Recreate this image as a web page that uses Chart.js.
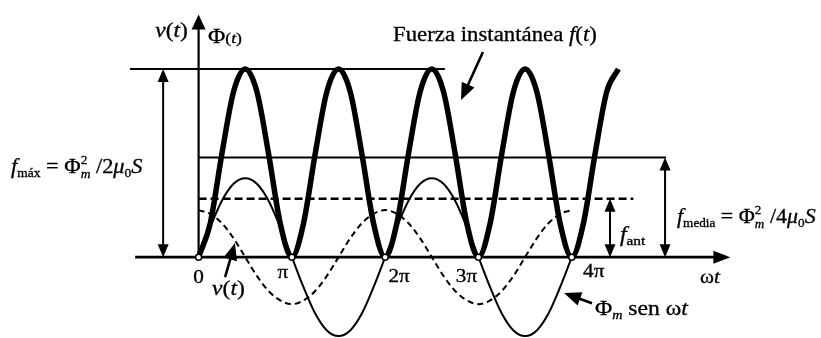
<!DOCTYPE html>
<html>
<head>
<meta charset="utf-8">
<script src="https://cdn.jsdelivr.net/npm/chart.js@4.4.1/dist/chart.umd.min.js"></script>
<style>
  html, body { margin: 0; padding: 0; background: #fff; }
  #wrap { width: 821px; height: 338px; }
</style>
</head>
<body>
<div id="wrap"><canvas id="forceChart" width="821" height="338"></canvas></div>
<script>
/* ==============================
   DATA  (x in multiples of pi, y in units of f_max)
================================ */
const omega = [
    0, 0.125, 0.25, 0.375, 0.5, 0.625, 0.75, 0.875,
    1, 1.125, 1.25, 1.375, 1.5, 1.625, 1.75, 1.875,
    2, 2.125, 2.25, 2.375, 2.5, 2.625, 2.75, 2.875,
    3, 3.125, 3.25, 3.375, 3.5, 3.625, 3.75, 3.875,
    4, 4.125, 4.25, 4.375, 4.5
];

// instantaneous force f(t)
const force = [
    0, 0.18, 0.55, 0.88, 1, 0.88, 0.55, 0.18,
    0, 0.18, 0.55, 0.88, 1, 0.88, 0.55, 0.18,
    0, 0.18, 0.55, 0.88, 1, 0.88, 0.55, 0.18,
    0, 0.18, 0.55, 0.88, 1, 0.88, 0.55, 0.18,
    0, 0.18, 0.55, 0.88, 1
];

// flux  Phi_m sen wt
const flux = [
    0, 0.16, 0.30, 0.39, 0.42, 0.39, 0.30, 0.16,
    0, -0.16, -0.30, -0.39, -0.42, -0.39, -0.30, -0.16,
    0, 0.16, 0.30, 0.39, 0.42, 0.39, 0.30, 0.16,
    0, -0.16, -0.30, -0.39, -0.42, -0.39, -0.30, -0.16,
    0
];

// voltage v(t)
const voltage = [
    0.25, 0.23, 0.18, 0.10, 0, -0.10, -0.18, -0.23,
    -0.25, -0.23, -0.18, -0.10, 0, 0.10, 0.18, 0.23,
    0.25, 0.23, 0.18, 0.10, 0, -0.10, -0.18, -0.23,
    -0.25, -0.23, -0.18, -0.10, 0, 0.10, 0.18, 0.23,
    0.25
];

const tickValues = [0, 1, 2, 3, 4];
const tickLabels = ["0", "π", "2π", "3π", "4π"];

// f_max, f_media, f_ant
const levels = [1, 0.53, 0.31];

/* ==============================
   LAYOUT
================================ */
const SERIF = '"Liberation Serif", "DejaVu Serif", serif';
const HSCALE = 1.18;

const guideSpan = { max: [-0.735, 2.64], media: [0, 5.01], ant: [0, 4.66] };
const axisSpan = { x: [-0.68, 5.70], yTop: 1.29 };
const dimX = { max: -0.38, media: 5.0, ant: 4.41 };

// pixel offsets of tick labels from (tick, 0)
const tickOffsets = [[0, 26], [-9, 21], [14, 25], [-12, 25], [22, 20]];

const notes = [
    { x: -0.114, y: 1.170, align: "right", runs: [
        { t: "v", s: 20, i: 1 }, { t: "(", s: 20 }, { t: "t", s: 20, i: 1 }, { t: ")", s: 20 }] },
    { x: 0.101, y: 1.138, runs: [
        { t: "Φ", s: 20 }, { t: "(", s: 15 }, { t: "t", s: 15, i: 1 }, { t: ")", s: 15 }] },
    { x: 2.084, y: 1.149, hs: 1.14, runs: [
        { t: "Fuerza instantánea ", s: 20 }, { t: "f", s: 20, i: 1 }, { t: "(", s: 20 },
        { t: "t", s: 20, i: 1 }, { t: ")", s: 20 }] },
    { x: -2.01, y: 0.447, hs: 1.12, runs: [
        { t: "f", s: 20, i: 1 }, { t: "máx", s: 12, dy: 4 }, { t: " = Φ", s: 20 },
        { sup: "2", sub: "m", s: 12 }, { t: " /2", s: 20 }, { t: "μ", s: 20, i: 1 },
        { t: "0", s: 12, dy: 4 }, { t: "S", s: 20, i: 1 }] },
    { x: 5.128, y: 0.181, hs: 1.1, runs: [
        { t: "f", s: 20, i: 1 }, { t: "media", s: 12, dy: 4 }, { t: " = Φ", s: 20 },
        { sup: "2", sub: "m", s: 12 }, { t: " /4", s: 20 }, { t: "μ", s: 20, i: 1 },
        { t: "0", s: 12, dy: 4 }, { t: "S", s: 20, i: 1 }] },
    { x: 4.517, y: 0.086, runs: [
        { t: "f", s: 20, i: 1 }, { t: "ant", s: 13, dy: 4 }] },
    { x: 4.249, y: -0.308, runs: [
        { t: "Φ", s: 20 }, { t: "m", s: 12, i: 1, dy: 4 }, { t: " sen ω", s: 20 }, { t: "t", s: 20, i: 1 }] },
    { x: 5.375, y: -0.138, runs: [
        { t: "ω", s: 18 }, { t: "t", s: 18, i: 1 }] },
    { x: 0.145, y: -0.200, runs: [
        { t: "v", s: 20, i: 1 }, { t: "(", s: 20 }, { t: "t", s: 20, i: 1 }, { t: ")", s: 20 }] }
];

// pointer arrows: [tailX, tailY, tipX, tipY]
const pointers = [
    [0.284, -0.106, 0.390, 0.075],
    [3.048, 1.091, 2.813, 0.835],
    [4.217, -0.245, 3.917, -0.191]
];

/* ==============================
   DRAW HELPERS
================================ */
function fontOf(r) {
    return `${r.i ? "italic " : ""}${r.s}px ${SERIF}`;
}

function runWidth(ctx, r) {
    if (r.sup !== undefined) {
        ctx.font = fontOf({ s: r.s });
        const a = ctx.measureText(r.sup).width;
        ctx.font = fontOf({ s: r.s, i: 1 });
        return Math.max(a, ctx.measureText(r.sub).width);
    }
    ctx.font = fontOf(r);
    return ctx.measureText(r.t).width;
}

function put(ctx, txt, x, y) {
    ctx.strokeText(txt, x, y);
    ctx.fillText(txt, x, y);
}

function drawRuns(ctx, x0, y0, runs, align, hs) {
    hs = hs || HSCALE;
    const w = runs.reduce((a, r) => a + runWidth(ctx, r), 0) * hs;
    if (align === "right") x0 -= w;
    if (align === "center") x0 -= w / 2;
    ctx.save();
    ctx.translate(x0, y0);
    ctx.scale(hs, 1);
    ctx.textBaseline = "alphabetic";
    ctx.fillStyle = "#000";
    ctx.strokeStyle = "#000";
    ctx.lineWidth = 0.3;
    let cx = 0;
    runs.forEach(r => {
        const rw = runWidth(ctx, r);
        if (r.sup !== undefined) {
            ctx.font = fontOf({ s: r.s });
            put(ctx, r.sup, cx, -9);
            ctx.font = fontOf({ s: r.s, i: 1 });
            put(ctx, r.sub, cx, 5);
        } else {
            ctx.font = fontOf(r);
            put(ctx, r.t, cx, r.dy || 0);
        }
        cx += rw;
    });
    ctx.restore();
}

function head(ctx, x1, y1, x2, y2, len, wid) {
    const a = Math.atan2(y2 - y1, x2 - x1);
    const c = Math.cos(a), s = Math.sin(a);
    ctx.beginPath();
    ctx.moveTo(x2, y2);
    ctx.lineTo(x2 - len * c + (wid / 2) * s, y2 - len * s - (wid / 2) * c);
    ctx.lineTo(x2 - len * c - (wid / 2) * s, y2 - len * s + (wid / 2) * c);
    ctx.closePath();
    ctx.fill();
}

function line(ctx, x1, y1, x2, y2, lw) {
    ctx.lineWidth = lw;
    ctx.beginPath();
    ctx.moveTo(x1, y1);
    ctx.lineTo(x2, y2);
    ctx.stroke();
}

/* ==============================
   AXES + ANNOTATIONS PLUGIN
================================ */
const axesPlugin = {
    id: "axesPlugin",
    beforeDatasetsDraw(chart) {
        const { ctx, scales: { x, y } } = chart;
        const px = v => x.getPixelForValue(v), py = v => y.getPixelForValue(v);
        ctx.save();
        ctx.strokeStyle = "#000";
        ctx.fillStyle = "#000";
        // horizontal wt axis
        line(ctx, px(axisSpan.x[0]), py(0), px(axisSpan.x[1]) - 8, py(0), 2.6);
        head(ctx, px(axisSpan.x[0]), py(0), px(axisSpan.x[1]), py(0), 17, 13);
        // vertical axis
        line(ctx, px(0), py(0), px(0), py(axisSpan.yTop) + 8, 2.2);
        head(ctx, px(0), py(0), px(0), py(axisSpan.yTop), 15, 14);
        ctx.restore();
    },
    afterDatasetsDraw(chart) {
        const { ctx, scales: { x, y } } = chart;
        const px = v => x.getPixelForValue(v), py = v => y.getPixelForValue(v);
        ctx.save();
        ctx.strokeStyle = "#000";
        ctx.fillStyle = "#000";

        // dimension arrows for f_max, f_media, f_ant
        [dimX.max, dimX.media, dimX.ant].forEach((dx, k) => {
            const xp = px(dx), y0 = py(0), y1 = py(levels[k]);
            line(ctx, xp, y0 - 6, xp, y1 + 6, 2);
            head(ctx, xp, y0, xp, y1, 13, 11);
            head(ctx, xp, y1, xp, y0, 13, 11);
        });

        // pointer arrows
        pointers.forEach(([x1, y1, x2, y2]) => {
            const a = px(x1), b = py(y1), c = px(x2), d = py(y2);
            const ang = Math.atan2(d - b, c - a);
            line(ctx, a, b, c - 10 * Math.cos(ang), d - 10 * Math.sin(ang), 2.6);
            head(ctx, a, b, c, d, 17, 14);
        });

        // tick labels
        tickValues.forEach((v, k) => {
            const [ox, oy] = tickOffsets[k];
            drawRuns(ctx, px(v) + ox, py(0) + oy, [{ t: tickLabels[k], s: 18 }], "center");
        });

        // text notes
        notes.forEach(n => drawRuns(ctx, px(n.x), py(n.y), n.runs, n.align, n.hs));
        ctx.restore();
    }
};

/* ==============================
   CHART
================================ */
const pts = (xs, ys) => ys.map((v, k) => ({ x: xs[k], y: v }));
const seg = (span, v) => [{ x: span[0], y: v }, { x: span[1], y: v }];

new Chart(document.getElementById("forceChart"), {
    type: "line",
    data: {
        datasets: [
            {   // zero crossings
                data: tickValues.map(v => ({ x: v, y: 0 })),
                showLine: false,
                pointRadius: 3,
                pointBorderWidth: 1.5,
                pointBackgroundColor: "#fff",
                pointBorderColor: "#000"
            },
            {
                data: pts(omega, force),
                borderColor: "#000",
                borderWidth: 5.5,
                pointRadius: 0,
                cubicInterpolationMode: "monotone"
            },
            {
                data: pts(omega, flux),
                borderColor: "#000",
                borderWidth: 2,
                pointRadius: 0,
                cubicInterpolationMode: "monotone"
            },
            {
                data: pts(omega, voltage),
                borderColor: "#000",
                borderWidth: 2,
                borderDash: [6, 4],
                pointRadius: 0,
                cubicInterpolationMode: "monotone"
            },
            {
                data: seg(guideSpan.max, levels[0]),
                borderColor: "#000", borderWidth: 2, pointRadius: 0
            },
            {
                data: seg(guideSpan.media, levels[1]),
                borderColor: "#000", borderWidth: 2, pointRadius: 0
            },
            {
                data: seg(guideSpan.ant, levels[2]),
                borderColor: "#000", borderWidth: 2.5, borderDash: [8, 4], pointRadius: 0
            }
        ]
    },
    options: {
        responsive: false,
        devicePixelRatio: 1,
        animation: false,
        layout: { autoPadding: false, padding: { left: 12, right: 16, top: 7, bottom: 0 } },
        plugins: { legend: { display: false }, tooltip: { enabled: false } },
        scales: {
            x: { type: "linear", min: -2, max: 6.5, display: false },
            y: { type: "linear", min: -0.43, max: 1.33, display: false }
        }
    },
    plugins: [axesPlugin]
});
</script>
</body>
</html>
